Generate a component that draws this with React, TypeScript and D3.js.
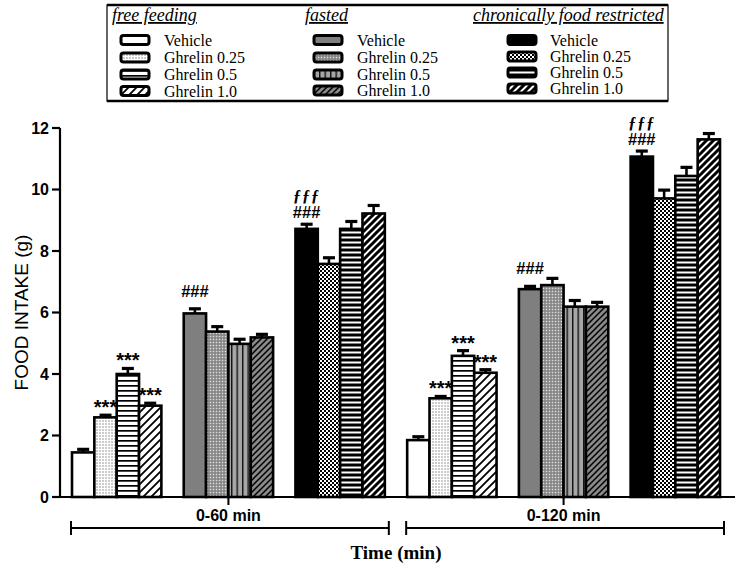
import React from "react";
import * as d3 from "d3";

const W = 740;
const H = 569;

const timeBlocks = ["0-60 min", "0-120 min"];
const conditions = ["free feeding", "fasted", "chronically food restricted"];
const treatments = ["Vehicle", "Ghrelin 0.25", "Ghrelin 0.5", "Ghrelin 1.0"];
const yTicks = [0, 2, 4, 6, 8, 10, 12];

// means (g)
const free060 = [1.45, 2.59, 4.0, 2.97];
const fasted060 = [5.97, 5.38, 4.98, 5.19];
const chronic060 = [8.72, 7.58, 8.72, 9.22];
const free0120 = [1.85, 3.21, 4.59, 4.04];
const fasted0120 = [6.76, 6.89, 6.19, 6.19];
const chronic0120 = [11.07, 9.71, 10.44, 11.63];

// SEM (g)
const free060Err = [0.1, 0.07, 0.18, 0.08];
const fasted060Err = [0.15, 0.16, 0.15, 0.1];
const chronic060Err = [0.15, 0.2, 0.24, 0.26];
const free0120Err = [0.11, 0.06, 0.17, 0.1];
const fasted0120Err = [0.09, 0.22, 0.2, 0.14];
const chronic0120Err = [0.18, 0.27, 0.28, 0.19];

const means = [
  [free060, fasted060, chronic060],
  [free0120, fasted0120, chronic0120],
];
const errs = [
  [free060Err, fasted060Err, chronic060Err],
  [free0120Err, fasted0120Err, chronic0120Err],
];

// [block, condition, treatment, labels (bottom-most last)]
const annotations: [number, number, number, string[]][] = [
  [0, 0, 1, ["***"]],
  [0, 0, 2, ["***"]],
  [0, 0, 3, ["***"]],
  [0, 1, 0, ["###"]],
  [0, 2, 0, ["ƒƒƒ", "###"]],
  [1, 0, 1, ["***"]],
  [1, 0, 2, ["***"]],
  [1, 0, 3, ["***"]],
  [1, 1, 0, ["###"]],
  [1, 2, 0, ["ƒƒƒ", "###"]],
];

const fills = [
  ["#ffffff", "url(#wDots)", "url(#wHoriz)", "url(#wDiag)"],
  ["#7f7f7f", "url(#gDots)", "url(#gVert)", "url(#gDiag)"],
  ["#000000", "url(#kCheck)", "url(#kHoriz)", "url(#kDiag)"],
];

const SANS = "'Liberation Sans', Arial, sans-serif";
const SERIF = "'Liberation Serif', 'Times New Roman', serif";

export default function App() {
  const groupIdx = d3.range(timeBlocks.length * conditions.length);
  const x0 = d3
    .scaleBand<number>()
    .domain(groupIdx)
    .range([72, 720])
    .paddingInner(0.2)
    .paddingOuter(0);
  const x1 = d3
    .scaleBand<number>()
    .domain(d3.range(treatments.length))
    .range([0, x0.bandwidth()]);
  const y = d3.scaleLinear().domain([0, 12]).range([497, 128]);

  const bars: any[] = [];
  const errBars: any[] = [];
  timeBlocks.forEach((_, b) => {
    conditions.forEach((_, c) => {
      const g = b * conditions.length + c;
      treatments.forEach((_, t) => {
        const v = means[b][c][t];
        const e = errs[b][c][t];
        const bx = (x0(g) as number) + (x1(t) as number);
        const bw = x1.bandwidth();
        bars.push(
          <rect
            key={`bar-${b}-${c}-${t}`}
            x={bx}
            y={y(v)}
            width={bw}
            height={y(0) - y(v)}
            fill={fills[c][t]}
            stroke="#000"
            strokeWidth={2.6}
          />
        );
        const cx = bx + bw / 2;
        errBars.push(
          <g key={`err-${b}-${c}-${t}`} stroke="#000">
            <line x1={cx} x2={cx} y1={y(v)} y2={y(v + e)} strokeWidth={2.6} />
            <line x1={cx - 6} x2={cx + 6} y1={y(v + e)} y2={y(v + e)} strokeWidth={3.2} />
          </g>
        );
      });
    });
  });

  const annos = annotations.map(([b, c, t, labels], i) => {
    const g = b * conditions.length + c;
    const cx = (x0(g) as number) + (x1(t) as number) + x1.bandwidth() / 2;
    const top = y(means[b][c][t] + errs[b][c][t]);
    const stacked = labels.length > 1;
    return (
      <g key={`anno-${i}`}>
        {labels.map((lab, j) => {
          const isStar = lab === "***";
          const isF = lab === "ƒƒƒ";
          let yy = top - 12;
          if (isStar) yy = top - 1;
          else if (stacked) yy = isF ? top - 23 : top - 6;
          return (
            <text
              key={j}
              x={cx}
              y={yy}
              textAnchor="middle"
              fontFamily={isF ? SERIF : SANS}
              fontStyle={isF ? "italic" : "normal"}
              fontWeight="bold"
              fontSize={isStar ? 20 : isF ? 16 : 16.5}
              letterSpacing={isF ? 1 : 0}
              fill="#000"
            >
              {lab}
            </text>
          );
        })}
      </g>
    );
  });

  const blockSpans = timeBlocks.map((_, b) => {
    const first = x0(b * conditions.length) as number;
    const last = (x0(b * conditions.length + conditions.length - 1) as number) + x0.bandwidth();
    return { first, last, mid: (first + last) / 2 };
  });

  const legendCols = [
    { hx: 112, sx: 121, tx: 164, rows: [40, 57.5, 74.5, 91] },
    { hx: 305, sx: 314, tx: 357, rows: [40, 57.5, 74.5, 90.5] },
    { hx: 473, sx: 508, tx: 550, rows: [40, 56.5, 72.5, 88.5] },
  ];

  return (
    <svg width={W} height={H} style={{ display: "block", position: "absolute", left: 0, top: 0 }}>
      <defs>
        <pattern id="wDots" width={3} height={3} patternUnits="userSpaceOnUse">
          <rect width={3} height={3} fill="#fff" />
          <rect x={0.5} y={0.5} width={1} height={1} fill="#333" />
        </pattern>
        <pattern id="wHoriz" width={6} height={5} patternUnits="userSpaceOnUse">
          <rect width={6} height={5} fill="#fff" />
          <rect y={0} width={6} height={1.7} fill="#000" />
        </pattern>
        <pattern id="wDiag" width={8} height={8} patternUnits="userSpaceOnUse">
          <rect width={8} height={8} fill="#fff" />
          <path d="M-2,2 l4,-4 M0,8 l8,-8 M6,10 l4,-4" stroke="#000" strokeWidth={1.8} />
        </pattern>
        <pattern id="gDots" width={3} height={3} patternUnits="userSpaceOnUse">
          <rect width={3} height={3} fill="#999" />
          <rect x={0} y={0} width={1} height={1} fill="#e0e0e0" />
          <rect x={1.5} y={1.5} width={1} height={1} fill="#555" />
        </pattern>
        <pattern id="gVert" width={5.5} height={6} patternUnits="userSpaceOnUse">
          <rect width={5.5} height={6} fill="#a6a6a6" />
          <rect x={0} width={1.4} height={6} fill="#111" />
        </pattern>
        <pattern id="gDiag" width={6} height={6} patternUnits="userSpaceOnUse">
          <rect width={6} height={6} fill="#8a8a8a" />
          <path d="M-1.5,1.5 l3,-3 M0,6 l6,-6 M4.5,7.5 l3,-3" stroke="#000" strokeWidth={1.5} />
        </pattern>
        <pattern id="kCheck" width={4} height={4} patternUnits="userSpaceOnUse">
          <rect width={4} height={4} fill="#000" />
          <rect x={0} y={0} width={2} height={2} fill="#fff" />
          <rect x={2} y={2} width={2} height={2} fill="#fff" />
        </pattern>
        <pattern id="kHoriz" width={6} height={5} patternUnits="userSpaceOnUse">
          <rect width={6} height={5} fill="#000" />
          <rect y={1.5} width={6} height={2} fill="#fff" />
        </pattern>
        <pattern id="kDiag" width={7} height={7} patternUnits="userSpaceOnUse">
          <rect width={7} height={7} fill="#fff" />
          <path d="M-2,2 l4,-4 M0,7 l7,-7 M5,9 l4,-4" stroke="#000" strokeWidth={3} />
        </pattern>
      </defs>

      {/* Legend */}
      <g>
        <rect x={107} y={5} width={561} height={96} fill="#fff" stroke="#000" strokeWidth={1.2} />
        <line x1={107} x2={668} y1={5} y2={5} stroke="#000" strokeWidth={2.5} />
        <line x1={107} x2={668} y1={101} y2={101} stroke="#000" strokeWidth={2.5} />
        {conditions.map((cond, c) => {
          const col = legendCols[c];
          return (
            <g key={`leg-${c}`}>
              <text
                x={col.hx}
                y={21}
                fontFamily={SERIF}
                fontStyle="italic"
                fontSize={18}
                textDecoration="underline"
                fill="#000"
              >
                {cond}
              </text>
              {treatments.map((tr, t) => (
                <g key={t}>
                  <rect
                    x={col.sx}
                    y={col.rows[t] - 4.5}
                    width={28}
                    height={9}
                    rx={2.5}
                    fill={fills[c][t]}
                    stroke="#000"
                    strokeWidth={3}
                  />
                  <text
                    x={col.tx}
                    y={col.rows[t]}
                    dy="0.35em"
                    fontFamily={SERIF}
                    fontSize={16}
                    fill="#000"
                  >
                    {tr}
                  </text>
                </g>
              ))}
            </g>
          );
        })}
      </g>

      {/* Bars */}
      {bars}
      {errBars}
      {annos}

      {/* Y axis */}
      <line x1={60} x2={60} y1={y(12)} y2={y(0)} stroke="#000" strokeWidth={2.2} />
      {yTicks.map((t) => (
        <g key={`yt-${t}`}>
          <line x1={52} x2={60} y1={y(t)} y2={y(t)} stroke="#000" strokeWidth={2.2} />
          <text
            x={49}
            y={y(t)}
            dy="0.36em"
            textAnchor="end"
            fontFamily={SANS}
            fontWeight="bold"
            fontSize={16}
            fill="#000"
          >
            {t}
          </text>
        </g>
      ))}
      <text
        transform={`translate(21,${(y(0) + y(12)) / 2}) rotate(-90)`}
        textAnchor="middle"
        dy="0.35em"
        fontFamily={SANS}
        fontSize={19}
        fill="#000"
      >
        FOOD INTAKE (g)
      </text>

      {/* X axis */}
      <line x1={52} x2={735} y1={y(0)} y2={y(0)} stroke="#000" strokeWidth={2.2} />
      {blockSpans.map((s, b) => (
        <g key={`blk-${b}`}>
          <line x1={s.mid} x2={s.mid} y1={y(0)} y2={y(0) + 8} stroke="#000" strokeWidth={2} />
          <text
            x={s.mid}
            y={521}
            textAnchor="middle"
            fontFamily={SANS}
            fontWeight="bold"
            fontSize={16}
            fill="#000"
          >
            {timeBlocks[b]}
          </text>
          <g stroke="#000" strokeWidth={2}>
            <line x1={s.first - 1} x2={s.last + 4} y1={528} y2={528} />
            <line x1={s.first - 1} x2={s.first - 1} y1={521} y2={535} />
            <line x1={s.last + 4} x2={s.last + 4} y1={521} y2={535} />
          </g>
        </g>
      ))}
      <text
        x={(blockSpans[0].first + blockSpans[1].last) / 2}
        y={559}
        textAnchor="middle"
        fontFamily={SERIF}
        fontWeight="bold"
        fontSize={19}
        fill="#000"
      >
        Time (min)
      </text>
    </svg>
  );
}
